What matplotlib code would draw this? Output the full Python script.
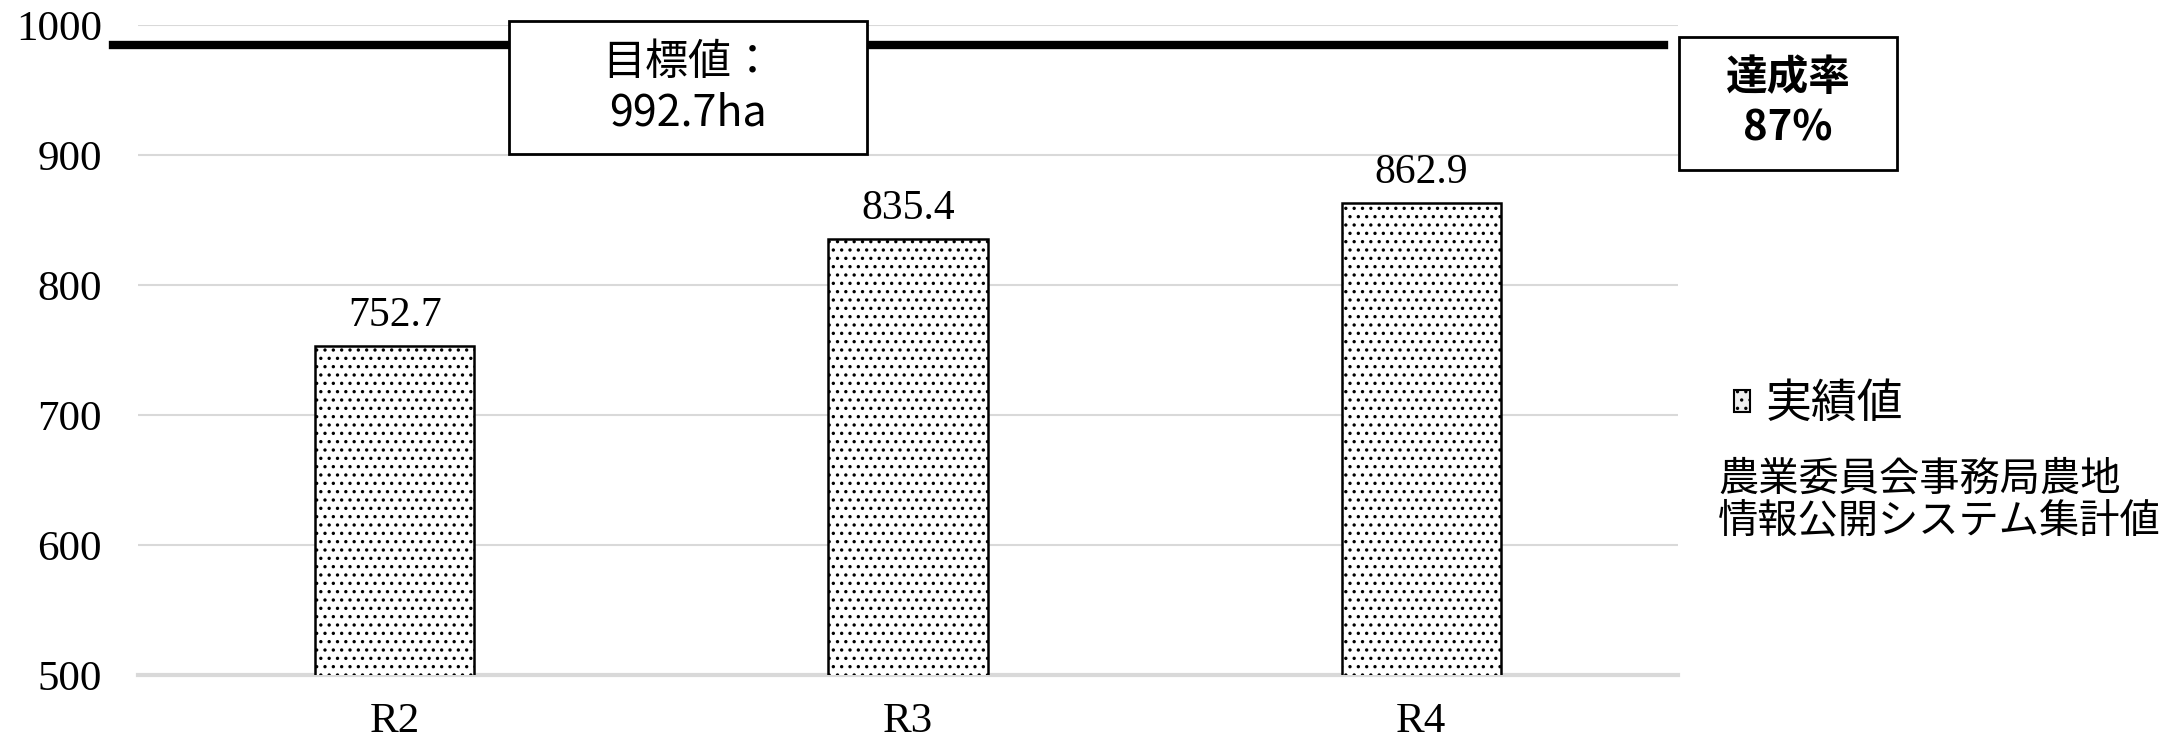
import matplotlib
matplotlib.use("Agg")
import matplotlib.pyplot as plt
from matplotlib.patches import Patch, Rectangle

plt.rcParams['font.family'] = ['Noto Sans CJK JP', 'DejaVu Sans']
plt.rcParams['hatch.linewidth'] = 1.2

# data
years = ['R2', 'R3', 'R4']
actual = [752.7, 835.4, 862.9]
target = 992.7
target_line_y = 985  # where the heavy line sits in the source chart
rate_text = '達成率\n87%'
target_text = f'目標値：\n{target}ha'
legend_label = '実績値'
source_note = '農業委員会事務局農地\n情報公開システム集計値'
yticks = [500, 600, 700, 800, 900, 1000]

fig = plt.figure(figsize=(21.67, 7.54), dpi=100)
ax = fig.add_axes([138 / 2167, 1 - 675 / 754, 1540 / 2167, 650 / 754])

x = range(len(years))
bars = ax.bar(x, actual, width=0.31, color='white', edgecolor='black',
              linewidth=1.8, hatch='..', zorder=3)
ax.bar_label(bars, labels=[f'{v:.1f}' for v in actual], padding=8,
             fontsize=30, family='Liberation Serif')

ax.set_ylim(500, 1000)
ax.set_xlim(-0.5, len(years) - 0.5)
ax.set_yticks(yticks)
ax.set_xticks(list(x))
ax.set_xticklabels(years)
for lab in ax.get_xticklabels() + ax.get_yticklabels():
    lab.set_family('Liberation Serif')
    lab.set_fontsize(31)
ax.tick_params(axis='y', length=0, pad=26)
ax.tick_params(axis='x', length=0, pad=20)
ax.grid(axis='y', color='#d9d9d9', linewidth=1.5, zorder=0)
for s in ['top', 'right', 'left']:
    ax.spines[s].set_visible(False)
ax.spines['bottom'].set_color('#d9d9d9')
ax.spines['bottom'].set_linewidth(3)

# target line, running a little past the left edge
ax.plot([-0.016, 0.991], [target_line_y, target_line_y], color='black',
        linewidth=6, transform=ax.get_yaxis_transform(), clip_on=False, zorder=4)

# text boxes
fig.patches.append(Rectangle((509 / 2167, 1 - 154 / 754), 358 / 2167, 133 / 754,
                             transform=fig.transFigure, facecolor='white',
                             edgecolor='black', linewidth=2, zorder=5))
fig.patches.append(Rectangle((1679 / 2167, 1 - 170 / 754), 218 / 2167, 133 / 754,
                             transform=fig.transFigure, facecolor='white',
                             edgecolor='black', linewidth=2, zorder=5))
fig.text(688 / 2167, 1 - 88 / 754, target_text, ha='center', va='center',
         fontsize=31, linespacing=1.2, zorder=6)
fig.text(1788 / 2167, 1 - 103 / 754, rate_text, ha='center', va='center',
         fontsize=30, fontweight='bold', linespacing=1.25, zorder=6)

handle = Patch(facecolor='#eeeeee', edgecolor='black', hatch='..', linewidth=1.5)
fig.legend([handle], [legend_label], loc='center left',
           bbox_to_anchor=(1711 / 2167, 1 - 404 / 754), frameon=False,
           fontsize=33, handlelength=0.35, handleheight=0.35, handletextpad=0.35,
           borderpad=0)
fig.text(1718 / 2167, 1 - 500 / 754, source_note, ha='left', va='center',
         fontsize=29, linespacing=1.05)

fig.savefig('out.png', dpi=100)
